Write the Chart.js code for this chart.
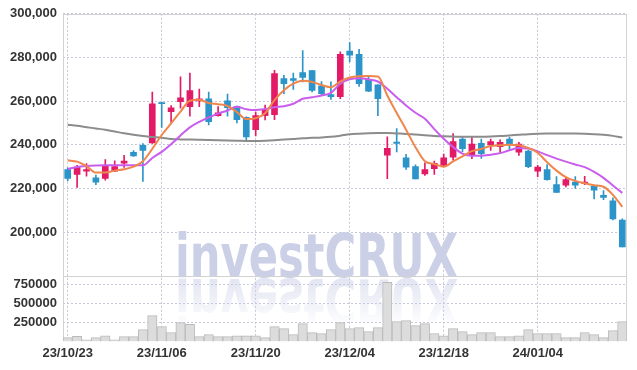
<!DOCTYPE html>
<html>
<head>
<meta charset="utf-8">
<script src="https://cdn.jsdelivr.net/npm/chart.js@4"></script>
<style>
  html, body { margin: 0; padding: 0; background: #fff; }
  #wrap { width: 637px; height: 370px; position: relative; }
</style>
</head>
<body>
<div id="wrap"><canvas id="chartCanvas"></canvas></div>
<script>
// --- data ---
const dates = [
  "23/10/23","23/10/24","23/10/25","23/10/26","23/10/27","23/10/30","23/10/31","23/11/01","23/11/02","23/11/03",
  "23/11/06","23/11/07","23/11/08","23/11/09","23/11/10","23/11/13","23/11/14","23/11/15","23/11/16","23/11/17",
  "23/11/20","23/11/21","23/11/22","23/11/23","23/11/24","23/11/27","23/11/28","23/11/29","23/11/30","23/12/01",
  "23/12/04","23/12/05","23/12/06","23/12/07","23/12/08","23/12/11","23/12/12","23/12/13","23/12/14","23/12/15",
  "23/12/18","23/12/19","23/12/20","23/12/21","23/12/22","23/12/26","23/12/27","23/12/28","24/01/02","24/01/03",
  "24/01/04","24/01/05","24/01/08","24/01/09","24/01/10","24/01/11","24/01/12","24/01/15","24/01/16","24/01/17"
];

const opens = [
  228700,226400,227900,224900,224600,227900,231600,236600,239800,240900,
  259400,255200,259800,257500,260100,261100,253300,260100,257500,252600,
  246900,253400,253800,270300,270300,273100,274000,267000,263000,262100,
  282900,281400,270000,267500,235300,241300,234100,230000,226700,229100,
  230600,234400,242600,235200,240700,240000,239200,242600,236700,237200,
  227900,228700,221800,221500,223000,222300,221000,216900,214400,205600
];
const highs = [
  229500,230600,231400,226100,233200,232700,235200,237400,240600,264200,
  259600,258000,271100,272900,265500,264200,257500,263200,257800,252800,
  255000,258200,274100,271800,272800,283200,274100,269000,268800,282600,
  286800,283700,271400,267500,243700,247400,235700,230900,231800,232600,
  235800,245200,243800,243500,242600,242600,242300,243400,241100,237600,
  230600,231000,225500,224900,225500,225600,221000,219000,215700,206100
];
const lows = [
  223500,220500,225600,221800,223800,227700,229700,234700,223200,240600,
  248000,250300,256800,253100,257500,249100,253100,253100,250000,242000,
  244100,251400,251500,263400,265400,268800,264200,262600,260800,261100,
  278000,266700,264400,253300,224500,236800,228700,224400,226000,226400,
  230300,233000,236900,233700,233800,237500,236100,237500,235200,229500,
  225400,223800,218200,220700,220000,221800,215200,214900,205600,193300
];
const closes = [
  224600,229800,228700,222900,230600,230000,232600,234900,237500,258800,
  258900,256900,261500,264800,261100,250600,254700,257000,251500,243600,
  253400,256100,272600,268000,269500,270900,264900,263400,262100,281400,
  281100,268000,264600,261100,238400,240700,229800,224400,228700,231500,
  234100,241500,238300,240300,236000,241500,241100,240300,240300,230000,
  229800,224100,218200,224100,221500,223000,219200,215900,206100,193300
];
const volumes = [
  49000,66000,22000,49000,75000,22000,62000,62000,155000,341000,
  195000,115000,248000,226000,62000,89000,62000,62000,75000,75000,
  75000,49000,195000,168000,89000,235000,115000,102000,155000,248000,
  168000,182000,129000,182000,781000,262000,275000,208000,235000,102000,
  75000,168000,129000,89000,115000,115000,62000,62000,75000,155000,
  102000,102000,102000,49000,49000,115000,89000,49000,142000,262000
];
// moving average lines as drawn
const maShort = [
  232900,232300,230300,227300,227300,228200,228800,230000,232500,238200,
  244500,249800,255200,260200,260600,259200,258600,257800,255000,251800,
  252200,254500,260500,265000,268000,269300,268800,267400,266400,269000,
  270800,271400,271500,271300,262600,254600,246900,238900,232500,231200,
  230000,232400,234700,237100,238100,239500,239800,240000,239800,238600,
  236400,232000,228200,225200,223500,222400,221500,220800,217100,211600
];
const maMid = [
  229000,229900,230300,230500,230600,230600,230600,230600,230600,234000,
  236800,240300,244300,248000,250500,252600,254300,255700,257400,256300,
  255900,256400,257200,257700,258800,261100,261800,262600,263800,268000,
  270000,270500,270000,269000,265700,261800,258000,254700,252000,247200,
  242800,239000,236000,235000,235000,235500,236200,237500,238500,238300,
  237000,235300,233700,232300,231000,229800,227600,224900,221400,218000
];
const maLong = [
  249200,248700,248100,247500,246900,246100,245300,244600,244000,243600,
  243200,242700,242500,242400,242300,242200,242100,242000,241900,241800,
  241800,241900,242100,242400,242700,243000,243200,243400,243700,244200,
  244800,245100,245300,245400,245400,245200,245000,244700,244400,244100,
  243900,243800,243700,243700,243700,243800,244000,244300,244600,244900,
  245100,245200,245200,245200,245200,245100,244900,244600,244100,243300
];

const priceTicks = [200000, 220000, 240000, 260000, 280000, 300000];
const priceRange = [180000, 300000];
const volumeTicks = [250000, 500000, 750000];
const volumeRange = [0, 865000];

// --- colours ---
const UP = "#e31b66";
const DOWN = "#2c94c9";
const candleColors = opens.map((o, i) => closes[i] >= o ? UP : DOWN);
const GRID = "#c6c8da";
const FONT = { family: "'Liberation Sans', Arial, sans-serif", size: 13, weight: "bold" };

// watermark + reflection behind the marks
const watermark = {
  id: "watermark",
  beforeDatasetsDraw(chart) {
    const { ctx, chartArea } = chart;
    const base = chart.scales.y.bottom + 1;
    const x = chartArea.left + 112;
    const text = "investCRUX";
    ctx.save();
    ctx.font = "bold 61px 'DejaVu Sans', sans-serif";
    const w = ctx.measureText(text).width;
    ctx.translate(x, base);
    ctx.scale(283 / w, 1);
    ctx.fillStyle = "#cbd0e7";
    ctx.fillText(text, 0, 0);
    // mirrored copy
    ctx.scale(1, -1);
    ctx.translate(0, -2);
    const g = ctx.createLinearGradient(0, 0, 0, -48);
    g.addColorStop(0, "rgba(203,208,231,0.55)");
    g.addColorStop(1, "rgba(203,208,231,0)");
    ctx.fillStyle = g;
    ctx.fillText(text, 0, 0);
    ctx.restore();
  }
};

// panel frames
const frames = {
  id: "frames",
  beforeDatasetsDraw(chart) {
    const { ctx, chartArea } = chart;
    const y = chart.scales.y, yv = chart.scales.yv;
    ctx.save();
    ctx.strokeStyle = "#d2d2d2";
    ctx.lineWidth = 1;
    const l = Math.round(chartArea.left) + 0.5, r = Math.round(chartArea.right) - 0.5;
    ctx.strokeRect(l, Math.round(y.top) + 0.5, r - l, Math.round(y.bottom) - Math.round(y.top));
    ctx.beginPath();
    ctx.moveTo(l, Math.round(yv.top)); ctx.lineTo(l, Math.round(yv.bottom));
    ctx.moveTo(r, Math.round(yv.top)); ctx.lineTo(r, Math.round(yv.bottom));
    ctx.stroke();
    ctx.restore();
  }
};

const canvas = document.getElementById("chartCanvas");

new Chart(canvas, {
  type: "bar",
  data: {
    labels: dates,
    datasets: [
      { type: "line", label: "MA5", data: maShort, yAxisID: "y", borderColor: "#ef864c", borderWidth: 2, pointRadius: 0, cubicInterpolationMode: "monotone", order: 0 },
      { type: "line", label: "MA20", data: maMid, yAxisID: "y", borderColor: "#c95ded", borderWidth: 2, pointRadius: 0, cubicInterpolationMode: "monotone", order: 0 },
      { type: "line", label: "MA60", data: maLong, yAxisID: "y", borderColor: "#8c8c8c", borderWidth: 2, pointRadius: 0, cubicInterpolationMode: "monotone", order: 0 },
      { label: "wick", data: lows.map((l, i) => [l, highs[i]]), yAxisID: "y", backgroundColor: candleColors, barThickness: 1, grouped: false, order: 1 },
      { label: "body", data: opens.map((o, i) => [Math.min(o, closes[i]), Math.max(o, closes[i])]), yAxisID: "y", backgroundColor: candleColors, barThickness: 6, minBarLength: 1, grouped: false, order: 1 },
      { label: "volume", data: volumes, yAxisID: "yv", backgroundColor: "#dcdcdc", borderColor: "#bababa", borderWidth: 1, barPercentage: 1, categoryPercentage: 1, grouped: false, order: 2 }
    ]
  },
  options: {
    responsive: true,
    maintainAspectRatio: false,
    animation: false,
    layout: { padding: { left: 10, right: 10, top: 10, bottom: 5 } },
    plugins: { legend: { display: false }, tooltip: { enabled: false } },
    scales: {
      x: {
        offset: true,
        grid: { offset: false, drawTicks: false, color: c => c.index % 10 === 0 ? GRID : "transparent" },
        border: { display: false, dash: [2, 2] },
        ticks: {
          autoSkip: false, maxRotation: 0, padding: 4, color: "#333", font: FONT,
          callback: (v, i) => i % 10 === 0 ? dates[i] : ""
        }
      },
      yv: {
        type: "linear", position: "left", stack: "panes", stackWeight: 1,
        min: volumeRange[0], max: volumeRange[1],
        grid: { drawTicks: false, color: GRID },
        border: { display: false, dash: [2, 2] },
        afterBuildTicks: s => { s.ticks = volumeTicks.map(v => ({ value: v })); },
        ticks: { autoSkip: false, padding: 6, color: "#333", font: FONT, callback: v => String(v) },
        afterFit: s => { s.width = 53; }
      },
      y: {
        type: "linear", position: "left", stack: "panes", stackWeight: 4,
        min: priceRange[0], max: priceRange[1],
        grid: { drawTicks: false, color: GRID },
        border: { display: false, dash: [2, 2] },
        afterBuildTicks: s => { s.ticks = priceTicks.map(v => ({ value: v })); },
        ticks: { autoSkip: false, padding: 6, color: "#333", font: FONT, callback: v => v.toLocaleString("en-US") },
        afterFit: s => { s.width = 53; }
      }
    }
  },
  plugins: [watermark, frames]
});
</script>
</body>
</html>
